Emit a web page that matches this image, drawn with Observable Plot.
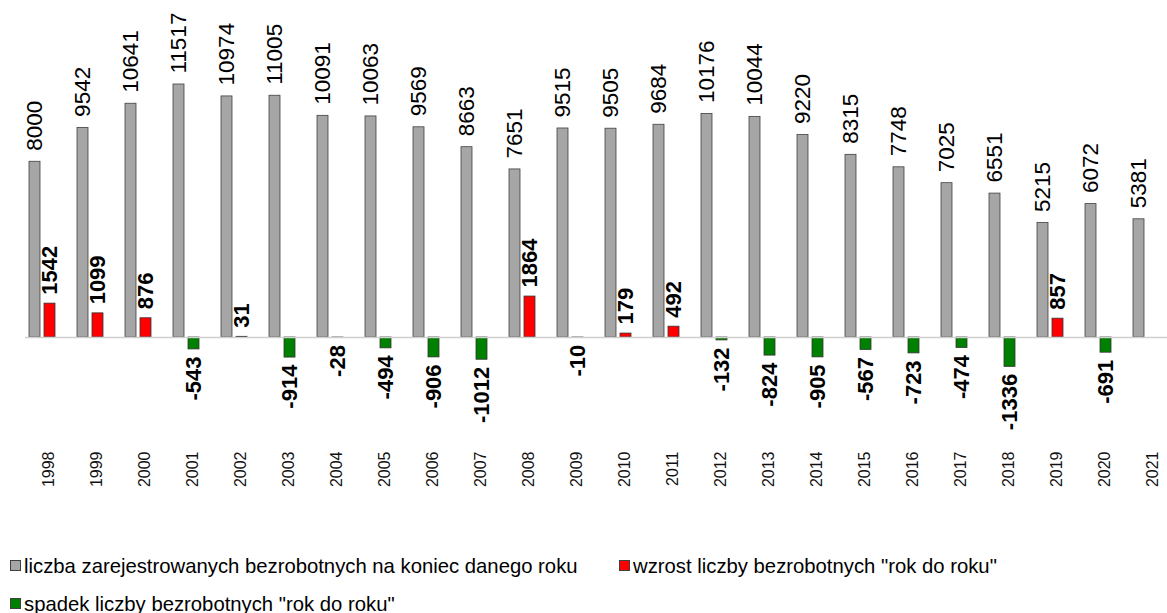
<!DOCTYPE html>
<html>
<head>
<meta charset="utf-8">
<script src="https://cdn.jsdelivr.net/npm/d3@7"></script>
<script src="https://cdn.jsdelivr.net/npm/@observablehq/plot@0.6"></script>
<style>
  html, body { margin: 0; padding: 0; background: #fff; width: 1167px; height: 613px; overflow: hidden; }
  body { position: relative; font-family: "Liberation Sans", Arial, sans-serif; }
  #chart { position: absolute; left: 0; top: 0; }
  .leg { position: absolute; font-size: 20.3px; color: #000; white-space: nowrap; line-height: 22px; }
  .sw { display: inline-block; width: 9px; height: 9px; border: 1px solid #404040; margin-right: 3px; vertical-align: 2px; }
</style>
</head>
<body>
<div id="chart"></div>
<div class="leg" style="left:10px; top:555px;"><span class="sw" style="background:#a6a6a6"></span>liczba zarejestrowanych bezrobotnych na koniec danego roku</div>
<div class="leg" style="left:619px; top:555px;"><span class="sw" style="background:#ff0000"></span>wzrost liczby bezrobotnych "rok do roku"</div>
<div class="leg" style="left:10px; top:593px;"><span class="sw" style="background:#008000"></span>spadek liczby bezrobotnych "rok do roku"</div>
<script>
const years = ["1998","1999","2000","2001","2002","2003","2004","2005","2006","2007","2008","2009","2010","2011","2012","2013","2014","2015","2016","2017","2018","2019","2020","2021"];
const unemployed = [8000,9542,10641,11517,10974,11005,10091,10063,9569,8663,7651,9515,9505,9684,10176,10044,9220,8315,7748,7025,6551,5215,6072,5381];
// change "rok do roku" shown in each group (last group has none)
const changeYears = years.slice(0, 23);
const changes = [1542,1099,876,-543,31,-914,-28,-494,-906,-1012,1864,-10,179,492,-132,-824,-905,-567,-723,-474,-1336,857,-691];

const grayData = years.map((y, i) => ({year: y, value: unemployed[i]}));
const chgData = changeYears.map((y, i) => ({year: y, value: changes[i]}));
const posData = chgData.filter(d => d.value >= 0);
const negData = chgData.filter(d => d.value < 0);

const chart = Plot.plot({
  width: 1167,
  height: 545,
  marginLeft: 25,
  marginRight: 0,
  marginTop: 0,
  marginBottom: 95,
  style: {fontFamily: "Liberation Sans, Arial, sans-serif", background: "#fff"},
  x: {type: "band", domain: years, range: [18, 1170], padding: 0, axis: null},
  y: {domain: [0, 11517], range: [337, 84], axis: null},
  marks: [
    Plot.barY(grayData, {x: "year", y: "value", fill: "#a6a6a6", stroke: "#404040", strokeWidth: 0.8, insetLeft: 11, insetRight: 26}),
    Plot.barY(chgData, {x: "year", y: "value", fill: d => d.value >= 0 ? "#ff0000" : "#008000", stroke: "#333", strokeWidth: 0.8, insetLeft: 26, insetRight: 11}),
    Plot.ruleY([0], {stroke: "#d0d0d0", strokeWidth: 1.5}),
    Plot.text(grayData, {x: "year", y: "value", text: d => String(d.value), rotate: -90, textAnchor: "start", dx: -7.5, dy: -11, fontSize: 22.5, fill: "#000"}),
    Plot.text(posData, {x: "year", y: "value", text: d => String(d.value), rotate: -90, textAnchor: "start", dx: 7.5, dy: -9, fontSize: 22, fontWeight: "bold", fill: "#000"}),
    Plot.text(negData, {x: "year", y: "value", text: d => String(d.value), rotate: -90, textAnchor: "end", dx: 7.5, dy: 7, fontSize: 22, fontWeight: "bold", fill: "#000"}),
    Plot.text(years, {x: d => d, frameAnchor: "bottom", text: d => d, rotate: -90, textAnchor: "end", dx: 11, dy: 1, fontSize: 16, fill: "#111"})
  ]
});
document.getElementById("chart").appendChild(chart);
</script>
</body>
</html>
